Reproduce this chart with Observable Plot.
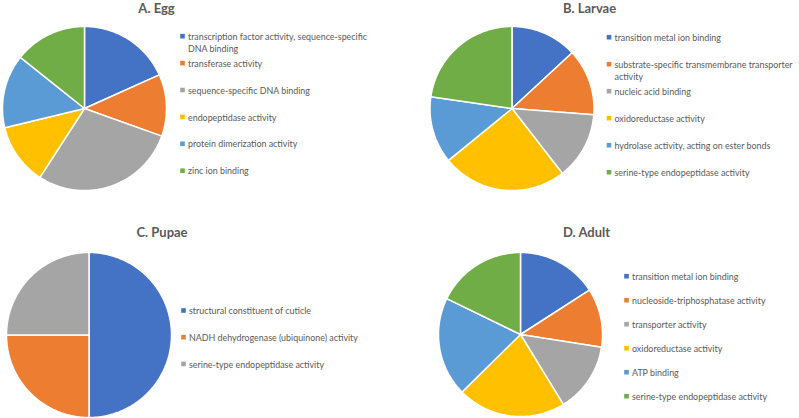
<!DOCTYPE html>
<html><head><meta charset="utf-8">
<script src="https://cdn.jsdelivr.net/npm/d3@7"></script>
<script src="https://cdn.jsdelivr.net/npm/@observablehq/plot@0.6"></script>
<style>body{margin:0;background:#fff}</style>
</head><body><div id="chart"></div>
<script>
const palette = ["#4472C4", "#ED7D31", "#A5A5A5", "#FFC000", "#5B9BD5", "#70AD47"];
const titles = ["A. Egg", "B. Larvae", "C. Pupae", "D. Adult"];

const eggLabels = ["transcription factor activity, sequence-specific\nDNA binding", "transferase activity", "sequence-specific DNA binding", "endopeptidase activity", "protein dimerization activity", "zinc ion binding"];
const eggValues = [18.3, 12.2, 28.7, 12.1, 14.5, 14.3];

const larvaeLabels = ["transition metal ion binding", "substrate-specific transmembrane transporter\nactivity", "nucleic acid binding", "oxidoreductase activity", "hydrolase activity, acting on ester bonds", "serine-type endopeptidase activity"];
const larvaeValues = [13.1, 13.1, 13.3, 24.6, 13.2, 22.7];

const pupaeLabels = ["structural constituent of cuticle", "NADH dehydrogenase (ubiquinone) activity", "serine-type endopeptidase activity"];
const pupaeValues = [50, 25, 25];

const adultLabels = ["transition metal ion binding", "nucleoside-triphosphatase activity", "transporter activity", "oxidoreductase activity", "ATP binding", "serine-type endopeptidase activity"];
const adultValues = [15.9, 11.6, 13.8, 21.4, 19.6, 17.8];

const panels = [
  {labels: eggLabels, values: eggValues},
  {labels: larvaeLabels, values: larvaeValues},
  {labels: pupaeLabels, values: pupaeValues},
  {labels: adultLabels, values: adultValues}
];

// layout (pixel space)
const layout = [
  {cx: 84, cy: 108, r: 82, tx: 156, ty: 8, lx: 182, ly: 35.7, dy: 26.9},
  {cx: 511.5, cy: 108, r: 82, tx: 589, ty: 8, lx: 608.5, ly: 36.7, dy: 27},
  {cx: 88.5, cy: 334.5, r: 82.5, tx: 161.5, ty: 232, lx: 183, ly: 310, dy: 26.7},
  {cx: 520, cy: 334, r: 82, tx: 586, ty: 232, lx: 626, ly: 275.7, dy: 24}
];

const slicePts = [];
const legend = [];
const titleRows = [];
panels.forEach((p, pi) => {
  const L = layout[pi];
  const arcs = d3.pie().sort(null)(p.values);
  arcs.forEach((a, i) => {
    const id = pi + "-" + i;
    slicePts.push({id, color: palette[i], x: L.cx, y: L.cy});
    const n = Math.max(2, Math.ceil((a.endAngle - a.startAngle) / (Math.PI / 180)));
    for (let k = 0; k <= n; k++) {
      const t = a.startAngle + (a.endAngle - a.startAngle) * k / n;
      slicePts.push({id, color: palette[i], x: L.cx + L.r * Math.sin(t), y: L.cy - L.r * Math.cos(t)});
    }
    legend.push({x: L.lx, y: L.ly + i * L.dy, label: p.labels[i], color: palette[i]});
  });
  titleRows.push({x: L.tx, y: L.ty, label: titles[pi]});
});

const font = "Lato, 'Open Sans', sans-serif";
const chart = Plot.plot({
  width: 799, height: 418, margin: 0,
  x: {domain: [0, 799], range: [0, 799], axis: null},
  y: {domain: [0, 418], range: [0, 418], axis: null},
  color: {type: "identity"},
  style: {background: "#fff", fontFamily: font},
  marks: [
    Plot.line(slicePts, {x: "x", y: "y", z: "id", fill: "color", stroke: "white", strokeWidth: 1.5, curve: "linear-closed", strokeLinejoin: "miter"}),
    Plot.dot(legend, {x: "x", y: "y", fill: "color", symbol: "square", r: 2.6, stroke: null}),
    Plot.text(legend, {x: (d) => d.x + 5.5, y: (d) => d.y - 4.8, text: "label", textAnchor: "start", lineAnchor: "top", lineHeight: 1.34, fill: "#595959", fontSize: 8.9, fontFamily: font}),
    Plot.text(titleRows, {x: "x", y: "y", text: "label", fill: "#595959", fontSize: 13, fontWeight: "bold", fontFamily: font})
  ]
});
document.getElementById("chart").appendChild(chart);
</script>
</body></html>
